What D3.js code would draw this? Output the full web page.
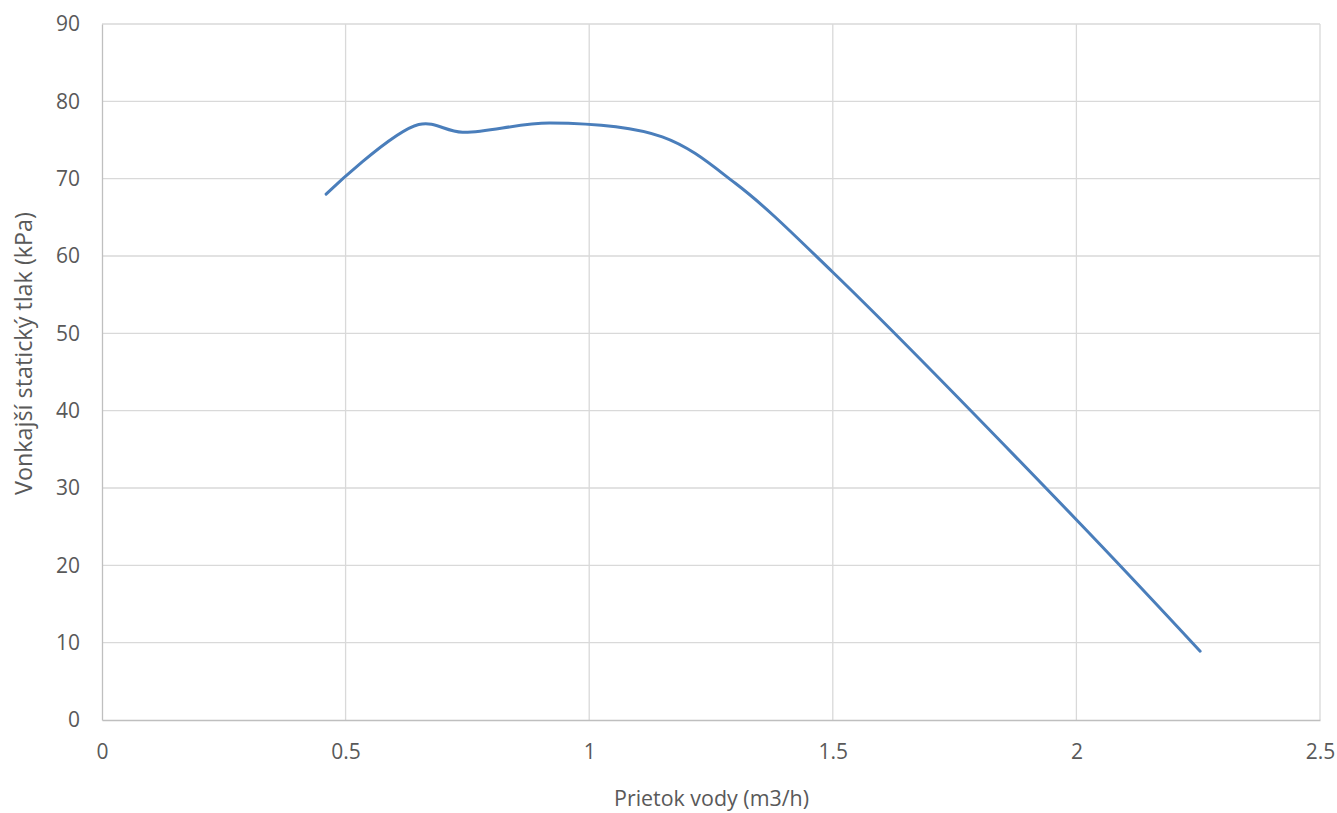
<!DOCTYPE html>
<html>
<head>
<meta charset="utf-8">
<script src="https://cdn.jsdelivr.net/npm/d3@7"></script>
<style>
  body { margin: 0; background: #fff; }
  text { font-family: "Open Sans", "Liberation Sans", sans-serif; fill: #595959; }
</style>
</head>
<body>
<svg id="svg" width="1337" height="813"></svg>
<script>
// flow (m3/h) vs external static pressure (kPa)
const flow = [0.46, 0.65, 0.74, 0.92, 1.15, 1.3, 1.5, 2.0, 2.254];
const pressure = [68, 77, 76, 77.2, 75.4, 69.4, 57.9, 25.9, 8.9];
const xTicks = [0, 0.5, 1, 1.5, 2, 2.5];
const yTicks = [0, 10, 20, 30, 40, 50, 60, 70, 80, 90];

const data = flow.map((f, i) => ({x: f, y: pressure[i]}));

const svg = d3.select('#svg');
const padding = {top: 24, right: 17, bottom: 93, left: 102};
const chartArea = {
    width: 1337 - padding.left - padding.right,
    height: 813 - padding.top - padding.bottom
};

const xScale = d3.scaleLinear().domain([0, 2.5]).range([0, chartArea.width]);
const yScale = d3.scaleLinear().domain([0, 90]).range([chartArea.height, 0]);

const g = svg.append('g')
    .attr('transform', 'translate(' + padding.left + ',' + padding.top + ')');

// gridlines
g.append('g').selectAll('line').data(yTicks.slice(1))
    .enter().append('line')
    .attr('x1', 0).attr('x2', chartArea.width)
    .attr('y1', d => yScale(d)).attr('y2', d => yScale(d))
    .attr('stroke', '#d9d9d9').attr('stroke-width', 1.3);

g.append('g').selectAll('line').data(xTicks.slice(1))
    .enter().append('line')
    .attr('y1', 0).attr('y2', chartArea.height)
    .attr('x1', d => xScale(d)).attr('x2', d => xScale(d))
    .attr('stroke', '#d9d9d9').attr('stroke-width', 1.3);

// axes
const xAxis = g.append('g')
    .attr('transform', 'translate(0,' + chartArea.height + ')')
    .call(d3.axisBottom(xScale).tickValues(xTicks).tickSize(0).tickPadding(24).tickFormat(d3.format('')));
const yAxis = g.append('g')
    .call(d3.axisLeft(yScale).tickValues(yTicks).tickSize(0).tickPadding(22));

[xAxis, yAxis].forEach(a => {
    a.select('.domain').attr('stroke', '#bfbfbf').attr('stroke-width', 1.3);
    a.selectAll('text').style('font-size', '21px').attr('fill', '#595959')
        .style('font-family', '"Open Sans", sans-serif');
});

// the curve
const line = d3.line()
    .x(d => xScale(d.x))
    .y(d => yScale(d.y))
    .curve(d3.curveCatmullRom.alpha(0.5));

g.append('path')
    .datum(data)
    .attr('fill', 'none')
    .attr('stroke', '#4a7ebb')
    .attr('stroke-width', 3)
    .attr('stroke-linecap', 'round')
    .attr('d', line);

// axis titles, sized to the widths seen in the original
function fitText(sel, target) {
    const w = sel.node().getComputedTextLength();
    sel.style('font-size', (20 * target / w).toFixed(2) + 'px');
}

const xTitle = svg.append('text')
    .attr('x', 711.5)
    .attr('y', 806)
    .attr('text-anchor', 'middle')
    .style('font-size', '20px')
    .text('Prietok vody (m3/h)');
fitText(xTitle, 195);

const yTitle = svg.append('text')
    .attr('transform', 'translate(32,353.5) rotate(-90)')
    .attr('text-anchor', 'middle')
    .style('font-size', '20px')
    .text('Vonkajší statický tlak (kPa)');
fitText(yTitle, 283);
</script>
</body>
</html>
